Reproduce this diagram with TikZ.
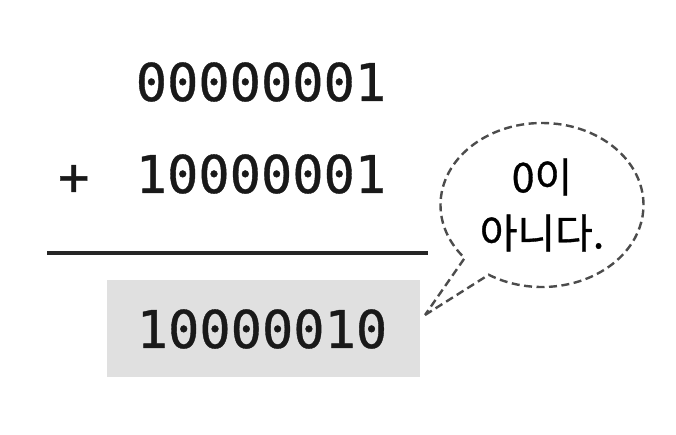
\documentclass[tikz,border=0pt]{standalone}
\usepackage{fontspec}
\usepackage{xcolor}
\newfontfamily\digitfont[FakeBold=0.7]{DejaVu Sans Mono}
\newfontfamily\korfont[FakeBold=0.8]{Noto Sans CJK KR}
\usetikzlibrary{shapes.callouts, positioning}

\begin{document}
\begin{tikzpicture}[x=1pt, y=-1pt]
\tikzstyle{number} = [font=\digitfont\fontsize{52}{60}\selectfont, inner sep=0pt, text=black!90]
\tikzstyle{shade} = [fill=black!12, minimum width=313pt, minimum height=97pt, inner sep=0pt]
\tikzstyle{bubble} = [ellipse callout, draw=black!70, dash pattern=on 8pt off 4.5pt, line width=2.4pt, minimum width=203pt, minimum height=164pt, inner sep=0pt, align=center, font=\korfont\fontsize{41}{56}\selectfont, callout pointer arc=18]

\useasboundingbox (0,0) rectangle (676,434);

% operands
\node (first) [number] at (261,82) {00000001};
\node (second) [number] at (261,174) {10000001};
\node (plus) [number, left=46pt of second, yshift=-6pt] {+};

% rule under the sum
\coordinate (rulestart) at (47,253);
\coordinate (ruleend) at (428,253);
\draw [line width=3.5pt, black!85] (rulestart) -- (ruleend);

% result on grey
\node (resultbox) [shade] at (263.5,328.5) {};
\node (result) [number] at (262,329) {10000010};

% speech bubble
\node (remark) [bubble, callout absolute pointer={(425,315)}] at (542,205) {0이\\아니다.};

\end{tikzpicture}
\end{document}
